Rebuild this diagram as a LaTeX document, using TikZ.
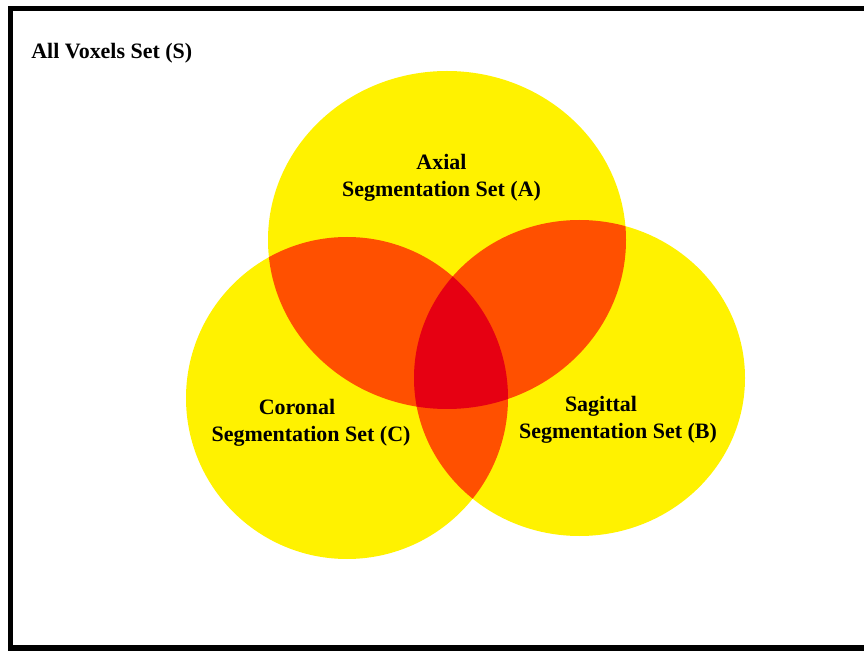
\documentclass[tikz,border=0pt]{standalone}
\usepackage{fontspec}
\setmainfont{Liberation Serif}

\definecolor{setyellow}{RGB}{255,242,0}
\definecolor{setorange}{RGB}{255,80,0}
\definecolor{setred}{RGB}{230,0,18}

\begin{document}
\begin{tikzpicture}[x=0.2mm, y=0.2mm,
	setlabel/.style={anchor=base, inner sep=0pt, font=\fontsize{12.5}{15.5}\selectfont\bfseries},
	frame/.style={draw=black, line width=1.1mm}]
	\useasboundingbox (0,0) rectangle (864,650);
	
	% centres of the three sets
	\coordinate (A) at (447,410);
	\coordinate (B) at (579.5,272);
	\coordinate (C) at (347,252);
	\def\setA{(A) ellipse [x radius=179, y radius=169]}
	\def\setB{(B) ellipse [x radius=165.5, y radius=158]}
	\def\setC{(C) circle [radius=161]}
	
	% single sets
	\fill[setyellow] \setA;
	\fill[setyellow] \setB;
	\fill[setyellow] \setC;
	% pairs
	\begin{scope}
		\clip \setA;
		\fill[setorange] \setB;
		\fill[setorange] \setC;
	\end{scope}
	% pair B, C and the three together
	\begin{scope}
		\clip \setB;
		\fill[setorange] \setC;
		\clip \setC;
		\fill[setred] \setA;
	\end{scope}
	
	\draw[frame] (10.5,2) rectangle (890,641.5);
	
	\node[setlabel, anchor=west]	(labS) at (31,597)	{All Voxels Set (S)};
	\node[setlabel]			(labA1) at (441.5,480)	{Axial};
	\node[setlabel]			(labA2) at (441.5,453)	{Segmentation Set (A)};
	\node[setlabel]			(labC1) at (297,235)	{Coronal};
	\node[setlabel]			(labC2) at (311,208)	{Segmentation Set (C)};
	\node[setlabel]			(labB1) at (601,238)	{Sagittal};
	\node[setlabel]			(labB2) at (618,211)	{Segmentation Set (B)};
\end{tikzpicture}
\end{document}
